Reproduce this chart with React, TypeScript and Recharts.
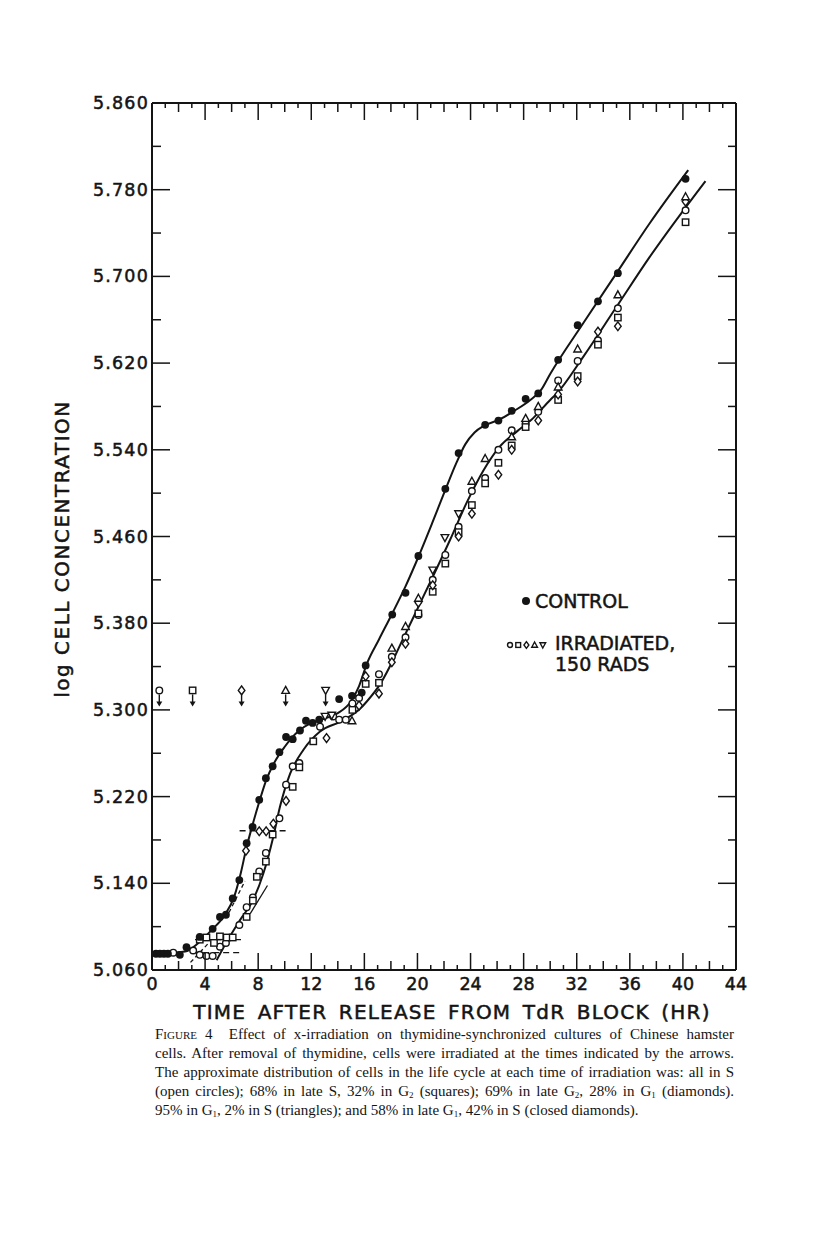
import React from "react"
import { ComposedChart, Line, Scatter, XAxis, YAxis, ReferenceLine } from "recharts"

// hours after release, log cell concentration
const hourTicks = [0, 1, 2, 3, 4, 5, 6, 7, 8, 9, 10, 11, 12, 13, 14, 15, 16, 17, 18, 19, 20, 21, 22, 23, 24, 25, 26, 27, 28, 29, 30, 31, 32, 33, 34, 35, 36, 37, 38, 39, 40, 41, 42, 43, 44]
const concTicks = [5.06, 5.1, 5.14, 5.18, 5.22, 5.26, 5.3, 5.34, 5.38, 5.42, 5.46, 5.5, 5.54, 5.58, 5.62, 5.66, 5.7, 5.74, 5.78, 5.82, 5.86]

const controlPts = [
  [0.3, 5.075], [0.6, 5.075], [0.9, 5.075], [1.2, 5.075], [2.1, 5.074], [2.6, 5.081],
  [3.6, 5.0905], [4.57, 5.098], [5.12, 5.109], [5.57, 5.111], [6.08, 5.126], [6.58, 5.143],
  [7.13, 5.177], [7.58, 5.192], [8.08, 5.217], [8.58, 5.237], [9.09, 5.248], [9.6, 5.261],
  [10.1, 5.275], [10.6, 5.273], [11.15, 5.281], [11.6, 5.29], [12.1, 5.288], [12.6, 5.291],
  [14.1, 5.31], [15.07, 5.313], [15.8, 5.316], [16.1, 5.341], [18.1, 5.388], [19.1, 5.408],
  [20.07, 5.442], [22.1, 5.504], [23.1, 5.537], [25.1, 5.563], [26.1, 5.567], [27.1, 5.576],
  [28.15, 5.587], [29.1, 5.592], [30.6, 5.623], [32.07, 5.655], [33.6, 5.677], [35.1, 5.703],
  [40.2, 5.79],
]

const circlePts = [
  [1.6, 5.076], [3.1, 5.078], [3.6, 5.074], [4.1, 5.073], [4.57, 5.073], [5.12, 5.0815],
  [5.57, 5.085], [6.58, 5.1015], [7.13, 5.118], [7.6, 5.127], [8.08, 5.151], [8.58, 5.168],
  [9.6, 5.2], [10.1, 5.231], [10.6, 5.248], [11.1, 5.251], [12.66, 5.2845], [13.65, 5.294],
  [14.1, 5.291], [14.6, 5.291], [15.1, 5.306], [15.6, 5.311], [17.1, 5.333], [18.07, 5.349],
  [19.1, 5.367], [20.07, 5.3876], [21.15, 5.42], [22.1, 5.443], [23.1, 5.469], [24.1, 5.502],
  [25.1, 5.514], [26.1, 5.54], [27.1, 5.558], [28.15, 5.564], [29.1, 5.575], [30.6, 5.604],
  [32.07, 5.622], [33.6, 5.641], [35.1, 5.6705], [40.2, 5.761],
]

const squarePts = [
  [3.6, 5.088], [4.1, 5.09], [4.67, 5.085], [5.12, 5.091], [5.63, 5.09], [6.08, 5.09],
  [7.13, 5.109], [7.6, 5.124], [7.9, 5.146], [8.58, 5.16], [9.09, 5.185], [10.6, 5.229],
  [11.1, 5.247], [12.15, 5.271], [15.1, 5.3], [16.1, 5.324], [17.1, 5.325], [20.07, 5.389],
  [21.15, 5.409], [22.1, 5.435], [23.1, 5.464], [24.1, 5.489], [25.1, 5.509], [26.1, 5.528],
  [27.1, 5.544], [28.15, 5.561], [30.6, 5.586], [32.07, 5.608], [33.6, 5.637], [35.1, 5.662],
  [40.2, 5.75],
]

const diamondPts = [
  [7.08, 5.17], [8.08, 5.188], [8.6, 5.188], [9.14, 5.195], [10.1, 5.216], [13.15, 5.274],
  [15.6, 5.304], [16.1, 5.331], [17.1, 5.315], [18.07, 5.344], [19.1, 5.361], [20.07, 5.399],
  [21.15, 5.415], [23.1, 5.46], [24.1, 5.481], [26.1, 5.517], [27.1, 5.54], [29.1, 5.567],
  [30.6, 5.591], [32.07, 5.603], [33.6, 5.649], [35.1, 5.654], [40.2, 5.769],
]

const trianglePts = [
  [15.07, 5.29], [18.07, 5.357], [19.1, 5.377], [20.07, 5.403], [24.1, 5.511], [25.1, 5.532],
  [27.1, 5.552], [28.15, 5.569], [29.1, 5.58], [30.6, 5.598], [32.07, 5.633], [35.1, 5.683],
  [40.2, 5.7735],
]

const invTrianglePts = [
  [13.04, 5.294], [13.54, 5.295], [21.15, 5.429], [22.07, 5.459], [23.1, 5.481],
]

// fitted curves
const controlCurve = [
  [0, 5.075], [2.5, 5.077], [3.5, 5.085], [4.5, 5.097], [5.5, 5.111], [6.2, 5.128], [6.7, 5.15],
  [7.1, 5.172], [7.6, 5.195], [8.1, 5.216], [8.6, 5.235], [9.2, 5.251], [10, 5.266], [11, 5.28],
  [12, 5.288], [13, 5.292], [14, 5.297], [15, 5.308], [15.6, 5.322], [16.2, 5.343], [17.1, 5.365],
  [18.1, 5.389], [19.1, 5.414], [20.1, 5.442], [21.1, 5.472], [22.1, 5.503], [22.9, 5.527],
  [23.6, 5.545], [24.3, 5.556], [25, 5.562], [26.2, 5.568], [27.3, 5.576], [28.5, 5.586],
  [29.3, 5.595], [30, 5.61], [32.5, 5.657], [35, 5.703], [37.5, 5.749], [40.4, 5.798],
]

const irradCurve = [
  [4.87, 5.069], [5.63, 5.086], [6.63, 5.106], [7.63, 5.125], [8.39, 5.149], [9.14, 5.183],
  [9.65, 5.211], [10.4, 5.241], [11.4, 5.263], [12.66, 5.28], [14.17, 5.289], [14.9, 5.294],
  [15.67, 5.301], [16.2, 5.308], [17.2, 5.324], [18.2, 5.347], [18.7, 5.36], [19.95, 5.392],
  [21.2, 5.424], [22.46, 5.457], [23.7, 5.491], [24.97, 5.521], [26.2, 5.543], [27.5, 5.557],
  [28.7, 5.569], [30, 5.586], [30.5, 5.592], [32.5, 5.626], [35, 5.672], [37.5, 5.718], [41.7, 5.788],
]

// irradiation times (arrows) and the symbol drawn on each
const arrowTimes = [0.55, 3.06, 6.75, 10.07, 13.08]
const arrowKinds = ["circle", "square", "diamond", "triangle", "invtriangle"]
const arrowLevel = 5.318

const dashedLevels = [
  { from: 3.24, to: 7.0, v: 5.088 },
  { from: 3.1, to: 6.6, v: 5.076 },
  { from: 6.6, to: 10.15, v: 5.1885 },
]
const tangents = [
  { h1: 2.9, v1: 5.067, h2: 4.2, v2: 5.084, dashed: true },
  { h1: 5.8, v1: 5.113, h2: 7.0, v2: 5.142, dashed: true },
  { h1: 7.4, v1: 5.112, h2: 8.7, v2: 5.138, dashed: false },
]

const toObj = (pts: number[][]) => pts.map(([h, v]) => ({ h, v }))

const INK = "#141414"
const FONT = "DejaVu Sans, sans-serif"

function Glyph({ kind, cx, cy, s = 1 }: { kind: string; cx: number; cy: number; s?: number }) {
  const sw = 1.4
  if (kind === "filled") return <circle cx={cx} cy={cy} r={3.9 * s} fill={INK} />
  if (kind === "circle") return <circle cx={cx} cy={cy} r={3.3 * s} fill="#fff" stroke={INK} strokeWidth={sw} />
  if (kind === "square")
    return <rect x={cx - 3.2 * s} y={cy - 3.2 * s} width={6.4 * s} height={6.4 * s} fill="#fff" stroke={INK} strokeWidth={sw} />
  if (kind === "diamond")
    return (
      <polygon
        points={`${cx},${cy - 4.4 * s} ${cx + 3.3 * s},${cy} ${cx},${cy + 4.4 * s} ${cx - 3.3 * s},${cy}`}
        fill="#fff" stroke={INK} strokeWidth={sw}
      />
    )
  if (kind === "triangle")
    return (
      <polygon
        points={`${cx},${cy - 4 * s} ${cx + 3.8 * s},${cy + 3 * s} ${cx - 3.8 * s},${cy + 3 * s}`}
        fill="#fff" stroke={INK} strokeWidth={sw}
      />
    )
  return (
    <polygon
      points={`${cx},${cy + 4 * s} ${cx + 3.8 * s},${cy - 3 * s} ${cx - 3.8 * s},${cy - 3 * s}`}
      fill="#fff" stroke={INK} strokeWidth={sw}
    />
  )
}

const shapeOf = (kind: string) => (p: any) => <Glyph kind={kind} cx={p.cx} cy={p.cy} />

function ArrowMark(p: any) {
  const { cx, cy, payload } = p
  return (
    <g>
      <line x1={cx} x2={cx} y1={cy + 4} y2={cy + 13} stroke={INK} strokeWidth={1.4} />
      <polygon points={`${cx - 3},${cy + 11} ${cx + 3},${cy + 11} ${cx},${cy + 16}`} fill={INK} />
      <Glyph kind={payload.kind} cx={cx} cy={cy} />
    </g>
  )
}

function tickLen(h: number) {
  if (h % 4 === 0) return 17
  if (h % 2 === 0) return 9
  return 5
}

function BottomTick({ x, y, payload }: any) {
  const h = payload.value
  return (
    <g>
      <line x1={x} x2={x} y1={y} y2={y - tickLen(h)} stroke={INK} strokeWidth={1.5} />
      {h % 4 === 0 && (
        <text x={x} y={y + 20} textAnchor="middle" fontFamily={FONT} fontSize={17.5} fill={INK} stroke={INK} strokeWidth={0.5}>
          {h}
        </text>
      )}
    </g>
  )
}

function TopTick({ x, y, payload }: any) {
  return <line x1={x} x2={x} y1={y} y2={y + tickLen(payload.value)} stroke={INK} strokeWidth={1.5} />
}

function LeftTick({ x, y, payload, index }: any) {
  const major = index % 2 === 0
  return (
    <g>
      <line x1={x} x2={x + (major ? 18 : 9)} y1={y} y2={y} stroke={INK} strokeWidth={1.5} />
      {major && (
        <text x={x - 3} y={y + 6} textAnchor="end" fontFamily={FONT} fontSize={17.5} fill={INK} stroke={INK} strokeWidth={0.5} letterSpacing={1.2}>
          {payload.value.toFixed(3)}
        </text>
      )}
    </g>
  )
}

function RightTick({ x, y, index }: any) {
  const major = index % 2 === 0
  return <line x1={x} x2={x - (major ? 18 : 8)} y1={y} y2={y} stroke={INK} strokeWidth={1.5} />
}

const captionLines = [
  "Effect of x-irradiation on thymidine-synchronized cultures of Chinese hamster",
  "cells. After removal of thymidine, cells were irradiated at the times indicated by the arrows.",
  "The approximate distribution of cells in the life cycle at each time of irradiation was: all in S",
]

const sub = { fontSize: 9, verticalAlign: -2 }
const bolden = { WebkitTextStroke: "0.5px #141414" } as React.CSSProperties

export default function App() {
  const arrowData = arrowTimes.map((h, i) => ({ h, v: arrowLevel, kind: arrowKinds[i] }))
  const capStyle: React.CSSProperties = {
    position: "absolute",
    left: 155,
    width: 579,
    fontFamily: "Liberation Serif, serif",
    fontSize: 15,
    lineHeight: "19px",
    color: INK,
    whiteSpace: "nowrap",
    textAlign: "justify",
    textAlignLast: "justify",
  }
  return (
    <div style={{ position: "absolute", left: 0, top: 0, width: 816, height: 1234, background: "#fff" }}>
      <ComposedChart
        width={816}
        height={1000}
        margin={{ top: 93, right: 70, bottom: 0, left: 92 }}
      >
        <XAxis
          dataKey="h"
          type="number"
          domain={[0, 44]}
          ticks={hourTicks}
          interval={0}
          allowDataOverflow
          height={30}
          tickSize={0}
          tickMargin={0}
          tickLine={false}
          tick={<BottomTick />}
          axisLine={{ stroke: INK, strokeWidth: 2 }}
        />
        <XAxis
          xAxisId="top"
          dataKey="h"
          orientation="top"
          type="number"
          domain={[0, 44]}
          ticks={hourTicks}
          interval={0}
          allowDataOverflow
          height={10}
          tickSize={0}
          tickMargin={0}
          tickLine={false}
          tick={<TopTick />}
          axisLine={{ stroke: INK, strokeWidth: 2 }}
        />
        <YAxis
          type="number"
          domain={[5.06, 5.86]}
          ticks={concTicks}
          interval={0}
          allowDataOverflow
          width={60}
          tickSize={0}
          tickMargin={0}
          tickLine={false}
          tick={<LeftTick />}
          axisLine={{ stroke: INK, strokeWidth: 2 }}
        />
        <YAxis
          yAxisId="right"
          orientation="right"
          type="number"
          domain={[5.06, 5.86]}
          ticks={concTicks}
          interval={0}
          allowDataOverflow
          width={10}
          tickSize={0}
          tickMargin={0}
          tickLine={false}
          tick={<RightTick />}
          axisLine={{ stroke: INK, strokeWidth: 2 }}
        />

        {dashedLevels.map((d, i) => (
          <ReferenceLine
            key={`d${i}`}
            segment={[{ x: d.from, y: d.v }, { x: d.to, y: d.v }]}
            stroke={INK}
            strokeWidth={1.3}
            strokeDasharray="6 4"
          />
        ))}
        {tangents.map((t, i) => (
          <ReferenceLine
            key={`t${i}`}
            segment={[{ x: t.h1, y: t.v1 }, { x: t.h2, y: t.v2 }]}
            stroke={INK}
            strokeWidth={1.3}
            strokeDasharray={t.dashed ? "4 3" : undefined}
          />
        ))}

        <Line
          data={toObj(controlCurve)}
          dataKey="v"
          type="monotone"
          stroke={INK}
          strokeWidth={2}
          dot={false}
          isAnimationActive={false}
        />
        <Line
          data={toObj(irradCurve)}
          dataKey="v"
          type="monotone"
          stroke={INK}
          strokeWidth={2}
          dot={false}
          isAnimationActive={false}
        />

        <Scatter data={toObj(circlePts)} dataKey="v" shape={shapeOf("circle")} isAnimationActive={false} />
        <Scatter data={toObj(squarePts)} dataKey="v" shape={shapeOf("square")} isAnimationActive={false} />
        <Scatter data={toObj(diamondPts)} dataKey="v" shape={shapeOf("diamond")} isAnimationActive={false} />
        <Scatter data={toObj(trianglePts)} dataKey="v" shape={shapeOf("triangle")} isAnimationActive={false} />
        <Scatter data={toObj(invTrianglePts)} dataKey="v" shape={shapeOf("invtriangle")} isAnimationActive={false} />
        <Scatter data={toObj(controlPts)} dataKey="v" shape={shapeOf("filled")} isAnimationActive={false} />
        <Scatter data={arrowData} dataKey="v" shape={ArrowMark} isAnimationActive={false} />
      </ComposedChart>

      {/* axis titles */}
      <div
        style={{
          position: "absolute",
          left: 62,
          top: 549,
          transform: "translate(-50%, -50%) rotate(-90deg)",
          fontFamily: FONT,
          fontSize: 20,
          letterSpacing: 1.5,
          whiteSpace: "nowrap",
          color: INK,
          ...bolden,
        }}
      >
        log CELL CONCENTRATION
      </div>
      <div
        style={{
          position: "absolute",
          left: 452,
          top: 1012,
          transform: "translate(-50%, -50%)",
          fontFamily: FONT,
          fontSize: 20,
          letterSpacing: 1.2,
          wordSpacing: 4,
          whiteSpace: "nowrap",
          color: INK,
          ...bolden,
        }}
      >
        TIME AFTER RELEASE FROM TdR BLOCK (HR)
      </div>

      {/* legend */}
      <div style={{ position: "absolute", left: 522, top: 590, fontFamily: FONT, fontSize: 19, color: INK, whiteSpace: "nowrap", ...bolden }}>
        <span style={{ display: "inline-block", width: 8, height: 8, borderRadius: 4, background: INK, marginRight: 5, verticalAlign: 3 }} />
        CONTROL
      </div>
      <svg style={{ position: "absolute", left: 505, top: 639 }} width={44} height={12}>
        {["circle", "square", "diamond", "triangle", "invtriangle"].map((k, i) => (
          <Glyph key={k} kind={k} cx={5 + i * 8.2} cy={6} s={0.75} />
        ))}
      </svg>
      <div style={{ position: "absolute", left: 555, top: 633, fontFamily: FONT, fontSize: 19, lineHeight: "21px", color: INK, whiteSpace: "nowrap", ...bolden }}>
        IRRADIATED,
        <br />
        150 RADS
      </div>

      {/* caption */}
      <div style={{ ...capStyle, top: 1025 }}>
        <span style={{ fontVariant: "small-caps" }}>Figure</span> 4&nbsp; {captionLines[0]}
      </div>
      <div style={{ ...capStyle, top: 1044 }}>{captionLines[1]}</div>
      <div style={{ ...capStyle, top: 1063 }}>{captionLines[2]}</div>
      <div style={{ ...capStyle, top: 1082 }}>
        (open circles); 68% in late S, 32% in G<span style={sub}>2</span> (squares); 69% in late G
        <span style={sub}>2</span>, 28% in G<span style={sub}>1</span> (diamonds).
      </div>
      <div style={{ ...capStyle, top: 1101, textAlign: "left", textAlignLast: "left", width: "auto" }}>
        95% in G<span style={sub}>1</span>, 2% in S (triangles); and 58% in late G<span style={sub}>1</span>, 42% in S (closed diamonds).
      </div>
    </div>
  )
}
